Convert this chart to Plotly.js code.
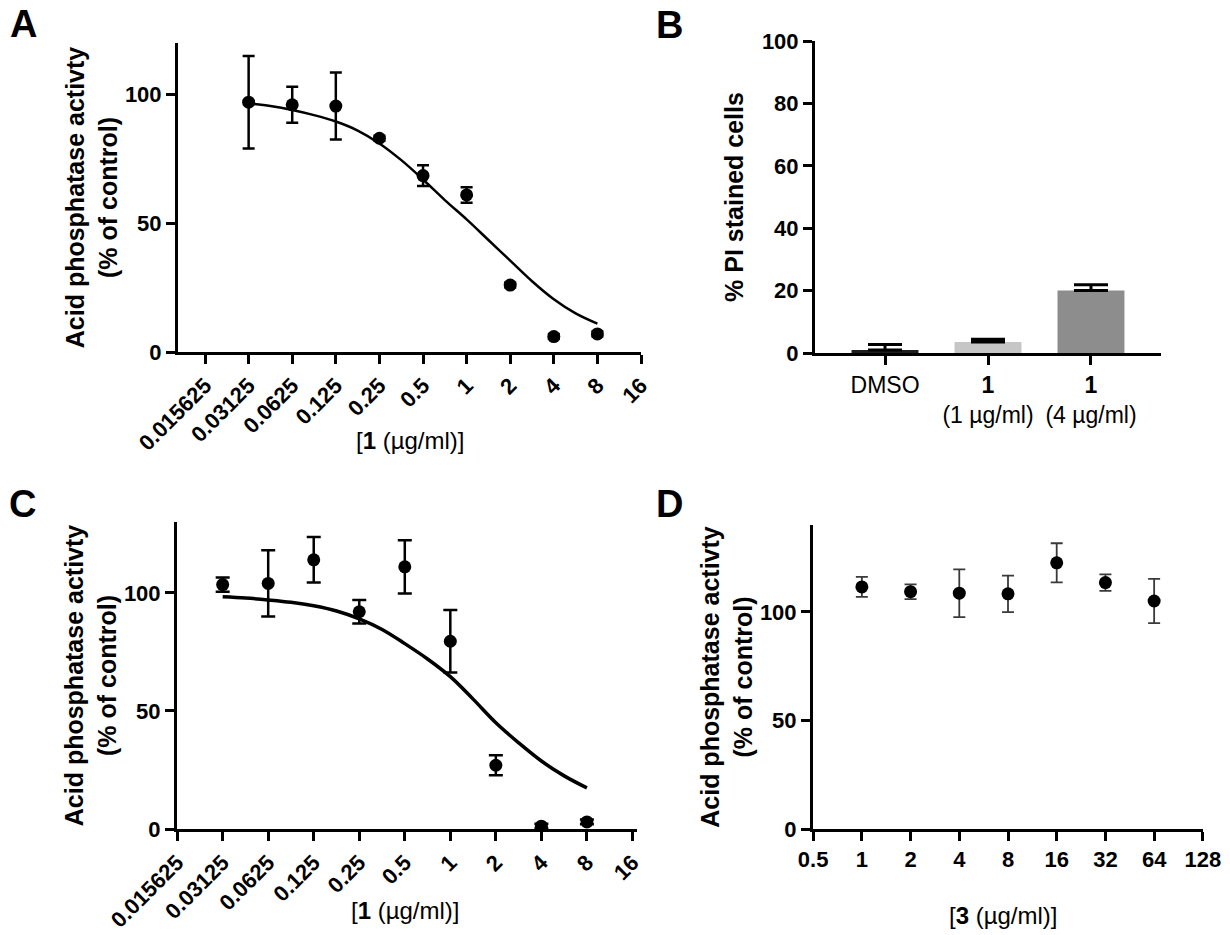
<!DOCTYPE html>
<html>
<head>
<meta charset="utf-8">
<script src="https://cdn.plot.ly/plotly-3.0.1.min.js"></script>
<style>
  html, body { margin: 0; padding: 0; background: #fff; }
  #chart { width: 1230px; height: 935px; }
</style>
</head>
<body>
<div id="chart"></div>
<script>
// ---------- Panel A: compound 1, acid phosphatase activity ----------
const aConc      = [0.03125, 0.0625, 0.125, 0.25, 0.5, 1, 2, 4, 8];
const aActivity  = [97, 96, 95.5, 83, 68.5, 61, 26, 6, 7];
const aError     = [18, 7, 13, 1, 4, 3, 1, 1, 1];
const aFitConc   = [0.03125, 0.0442, 0.0625, 0.0884, 0.125, 0.177, 0.25, 0.354, 0.5, 0.707, 1, 1.414, 2, 2.83, 4, 5.66, 8];
const aFitValue  = [96.5, 95.5, 94, 92, 89.5, 86, 81, 74.5, 67, 59, 51.5, 43.5, 35.5, 27.5, 20.5, 15, 11];
const aTickVals  = [0.015625, 0.03125, 0.0625, 0.125, 0.25, 0.5, 1, 2, 4, 8, 16];
const aTickText  = ['0.015625', '0.03125', '0.0625', '0.125', '0.25', '0.5', '1', '2', '4', '8', '16'];

// ---------- Panel B: % PI stained cells ----------
const bCategories = ['DMSO', '1 (1 µg/ml)', '1 (4 µg/ml)'];
const bTickText   = ['DMSO', '<b>1</b><br>(1 µg/ml)', '<b>1</b><br>(4 µg/ml)'];
const bValues     = [1.0, 3.5, 20.0];
const bErrors     = [1.7, 0.9, 1.9];
const bColors     = ['#1e1e1e', '#c6c6c6', '#8d8d8d'];

// ---------- Panel C: compound 1, second experiment ----------
const cConc      = [0.03125, 0.0625, 0.125, 0.25, 0.5, 1, 2, 4, 8];
const cActivity  = [103.5, 104, 114, 92, 111, 79.5, 27, 1.2, 3];
const cError     = [3, 14, 9.6, 5, 11.3, 13.2, 4.2, 1, 1];
const cFitConc   = [0.03125, 0.0442, 0.0625, 0.0884, 0.125, 0.177, 0.25, 0.354, 0.5, 0.707, 1, 1.414, 2, 2.83, 4, 5.66, 8];
const cFitValue  = [98.3, 97.8, 97, 96, 94.5, 92.3, 89, 84.5, 78.5, 72, 64.5, 55, 45, 36.5, 28.8, 22.5, 17.4];
const cTickVals  = aTickVals;
const cTickText  = aTickText;

// ---------- Panel D: compound 3 ----------
const dConc      = [1, 2, 4, 8, 16, 32, 64];
const dActivity  = [111.5, 109.3, 108.6, 108.3, 122.6, 113.5, 105];
const dError     = [4.6, 3.4, 11, 8.4, 9, 3.8, 10.2];
const dTickVals  = [0.5, 1, 2, 4, 8, 16, 32, 64, 128];
const dTickText  = ['0.5', '1', '2', '4', '8', '16', '32', '64', '128'];

// ---------- helpers ----------
const FONT = 'Liberation Sans, Arial, Helvetica, sans-serif';
const W = 1230, H = 935;
const px = v => v / W;
const py = v => 1 - v / H;
const log2r = (a, b) => [a * Math.LOG10E * Math.LN2, b * Math.LOG10E * Math.LN2];

function baseAxis(extra) {
  return Object.assign({
    showgrid: false, zeroline: false, showline: true,
    linecolor: '#000', linewidth: 3,
    ticks: 'outside', ticklen: 9, tickwidth: 3, tickcolor: '#000',
    tickfont: {family: FONT, size: 22, color: '#000', weight: 'bold'},
    fixedrange: true
  }, extra);
}

const traces = [
  // A
  {x: aFitConc, y: aFitValue, xaxis: 'x', yaxis: 'y', type: 'scatter', mode: 'lines',
   line: {color: '#000', width: 2.5, shape: 'spline'}, hoverinfo: 'skip'},
  {x: aConc, y: aActivity, xaxis: 'x', yaxis: 'y', type: 'scatter', mode: 'markers',
   marker: {color: '#000', size: 13},
   error_y: {type: 'data', array: aError, color: '#000', thickness: 2.5, width: 6}},
  // B
  {x: bCategories, y: bValues, xaxis: 'x2', yaxis: 'y2', type: 'bar', width: 0.65,
   marker: {color: bColors, line: {width: 0}},
   error_y: {type: 'data', symmetric: false, array: bErrors, arrayminus: [0, 0, 0],
             color: '#000', thickness: 3, width: 17}},
  // C
  {x: cFitConc, y: cFitValue, xaxis: 'x3', yaxis: 'y3', type: 'scatter', mode: 'lines',
   line: {color: '#000', width: 3.5, shape: 'spline'}, hoverinfo: 'skip'},
  {x: cConc, y: cActivity, xaxis: 'x3', yaxis: 'y3', type: 'scatter', mode: 'markers',
   marker: {color: '#000', size: 13},
   error_y: {type: 'data', array: cError, color: '#000', thickness: 2.5, width: 7}},
  // D
  {x: dConc, y: dActivity, xaxis: 'x4', yaxis: 'y4', type: 'scatter', mode: 'markers',
   marker: {color: '#000', size: 13},
   error_y: {type: 'data', array: dError, color: '#3a3a3a', thickness: 1.8, width: 6}}
];

const yTitleFont = {family: FONT, size: 25, color: '#000', weight: 'bold'};
const actTitle = 'Acid phosphatase activty<br>(% of control)';

const layout = {
  width: W, height: H,
  margin: {l: 0, r: 0, t: 0, b: 0},
  paper_bgcolor: '#fff', plot_bgcolor: 'rgba(0,0,0,0)',
  showlegend: false,
  font: {family: FONT, color: '#000'},
  // A
  xaxis: baseAxis({type: 'log', domain: [px(178), px(641)], anchor: 'y',
    range: log2r(-6.62, 4.0), tickvals: aTickVals, ticktext: aTickText, tickangle: -45}),
  yaxis: baseAxis({domain: [py(352), py(43)], anchor: 'x', range: [0, 120],
    tickvals: [0, 50, 100], title: {text: actTitle, font: yTitleFont, standoff: 1}}),
  // B
  xaxis2: baseAxis({domain: [px(815), px(1161)], anchor: 'y2', type: 'category',
    range: [-0.68, 2.68], tickvals: bCategories, ticktext: bTickText,
    tickfont: {family: FONT, size: 23, color: '#000'}}),
  yaxis2: baseAxis({domain: [py(353), py(41)], anchor: 'x2', range: [0, 100],
    tickvals: [0, 20, 40, 60, 80, 100],
    title: {text: '% PI stained cells', font: yTitleFont, standoff: 12}}),
  // C
  xaxis3: baseAxis({type: 'log', domain: [px(177), px(637)], anchor: 'y3',
    range: log2r(-6.003, 4.1), tickvals: cTickVals, ticktext: cTickText, tickangle: -45}),
  yaxis3: baseAxis({domain: [py(829), py(522)], anchor: 'x3', range: [0, 130],
    tickvals: [0, 50, 100], title: {text: actTitle, font: yTitleFont, standoff: 1}}),
  // D
  xaxis4: baseAxis({type: 'log', domain: [px(813), px(1203)], anchor: 'y4',
    range: log2r(-1.003, 7.003), tickvals: dTickVals, ticktext: dTickText, tickangle: 0}),
  yaxis4: baseAxis({domain: [py(829), py(525)], anchor: 'x4', range: [0, 140],
    tickvals: [0, 50, 100], title: {text: actTitle, font: yTitleFont, standoff: 1}}),
  annotations: [
    // panel letters
    {text: '<b>A</b>', x: px(23), y: py(24), xref: 'paper', yref: 'paper', showarrow: false,
     xanchor: 'center', yanchor: 'middle', font: {family: FONT, size: 38, color: '#000'}},
    {text: '<b>B</b>', x: px(669), y: py(25), xref: 'paper', yref: 'paper', showarrow: false,
     xanchor: 'center', yanchor: 'middle', font: {family: FONT, size: 38, color: '#000'}},
    {text: '<b>C</b>', x: px(22), y: py(504), xref: 'paper', yref: 'paper', showarrow: false,
     xanchor: 'center', yanchor: 'middle', font: {family: FONT, size: 38, color: '#000'}},
    {text: '<b>D</b>', x: px(669), y: py(504), xref: 'paper', yref: 'paper', showarrow: false,
     xanchor: 'center', yanchor: 'middle', font: {family: FONT, size: 38, color: '#000'}},
    // x-axis titles
    {text: '[<b>1</b> (µg/ml)]', x: px(410), y: py(440), xref: 'paper', yref: 'paper', showarrow: false,
     xanchor: 'center', yanchor: 'middle', font: {family: FONT, size: 24, color: '#000'}},
    {text: '[<b>1</b> (µg/ml)]', x: px(405), y: py(910), xref: 'paper', yref: 'paper', showarrow: false,
     xanchor: 'center', yanchor: 'middle', font: {family: FONT, size: 24, color: '#000'}},
    {text: '[<b>3</b> (µg/ml)]', x: px(1003), y: py(915), xref: 'paper', yref: 'paper', showarrow: false,
     xanchor: 'center', yanchor: 'middle', font: {family: FONT, size: 24, color: '#000'}}
  ]
};

Plotly.newPlot('chart', traces, layout, {staticPlot: true, displayModeBar: false});
</script>
</body>
</html>
